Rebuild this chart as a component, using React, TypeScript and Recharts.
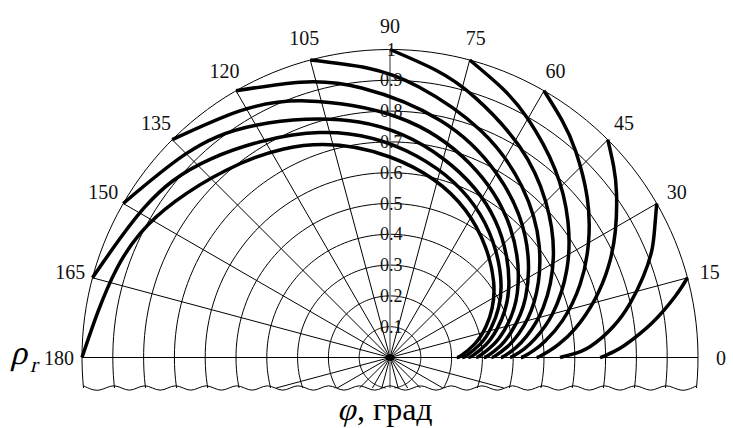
import { ComposedChart, XAxis, YAxis, Line, Scatter } from "recharts";

// polar angle phi (deg) and rho_r, one pair per curve
// (curves are named by the angle where they reach rho = 1)
const phi15 = [0, 0.2, 0.8, 1.5, 3, 5.3, 7.5, 9.8, 12, 13.5, 15];
const rho15 = [0.682, 0.689, 0.707, 0.727, 0.763, 0.812, 0.858, 0.903, 0.945, 0.973, 1];

const phi30 = [0, 1, 3.1, 7.9, 12.7, 17.7, 22.3, 26.3, 30];
const rho30 = [0.552, 0.59, 0.65, 0.732, 0.799, 0.863, 0.919, 0.959, 1];

const phi45 = [0, 0.5, 2.3, 4.5, 9, 15.8, 22.5, 29.3, 36, 40.5, 45];
const rho45 = [0.476, 0.487, 0.517, 0.55, 0.61, 0.691, 0.767, 0.839, 0.909, 0.955, 1];

const phi60 = [0, 0.6, 3, 6, 12, 21, 30, 39, 48, 54, 60];
const rho60 = [0.425, 0.437, 0.47, 0.506, 0.572, 0.661, 0.744, 0.824, 0.901, 0.951, 1];

const phi75 = [0, 0.8, 3.8, 7.5, 15, 26.3, 37.5, 48.8, 60, 67.5, 75];
const rho75 = [0.39, 0.402, 0.438, 0.476, 0.546, 0.64, 0.728, 0.813, 0.895, 0.948, 1];

const phi90 = [0, 0.9, 4.5, 9, 18, 31.5, 45, 58.5, 72, 81, 90];
const rho90 = [0.36, 0.373, 0.41, 0.45, 0.523, 0.622, 0.715, 0.804, 0.889, 0.945, 1];

const phi105 = [0, 1, 5.3, 10.5, 21, 36.8, 52.5, 68.3, 84, 94.5, 105];
const rho105 = [0.33, 0.343, 0.383, 0.425, 0.501, 0.605, 0.702, 0.794, 0.884, 0.943, 1];

const phi120 = [0, 1.2, 6, 12, 24, 42, 60, 78, 96, 108, 120];
const rho120 = [0.305, 0.319, 0.36, 0.403, 0.482, 0.59, 0.691, 0.787, 0.88, 0.94, 1];

const phi135 = [0, 1.4, 6.8, 13.5, 27, 47.3, 67.5, 87.8, 108, 121.5, 135];
const rho135 = [0.28, 0.294, 0.336, 0.382, 0.464, 0.575, 0.68, 0.779, 0.876, 0.938, 1];

const phi150 = [0, 1.5, 7.5, 15, 30, 52.5, 75, 97.5, 120, 135, 150];
const rho150 = [0.255, 0.27, 0.313, 0.36, 0.445, 0.561, 0.668, 0.771, 0.871, 0.936, 1];

const phi165 = [0, 1.7, 8.3, 16.5, 33, 57.8, 82.5, 107.3, 132, 148.5, 165];
const rho165 = [0.235, 0.25, 0.295, 0.343, 0.43, 0.549, 0.66, 0.765, 0.868, 0.934, 1];

const phi180 = [0, 1.8, 9, 18, 36, 63, 90, 117, 144, 162, 180];
const rho180 = [0.217, 0.233, 0.278, 0.328, 0.416, 0.538, 0.651, 0.76, 0.862, 0.933, 1];

// grid ticks
const RINGS = [0.1, 0.2, 0.3, 0.4, 0.5, 0.6, 0.7, 0.8, 0.9, 1];
const RING_LABELS = ["0.1", "0.2", "0.3", "0.4", "0.5", "0.6", "0.7", "0.8", "0.9", "1"];
const ANGLE_TICKS = [0, 15, 30, 45, 60, 75, 90, 105, 120, 135, 150, 165, 180];

const W = 733;
const H = 428;
const CX = 390; // pixel position of the pole
const CY = 357.5;
const R = 308; // pixels for rho = 1
const X_DOM = [-CX / R, (W - CX) / R];
const Y_DOM = [(CY - H) / R, CY / R];
const CUT = 0.099; // the grid is broken off this far below the 0-180 line
const FONT = "'Liberation Serif', 'Times New Roman', serif";

const rad = (d: number) => (d * Math.PI) / 180;
const polar = (phi: number, rho: number) => ({
  x: rho * Math.cos(rad(phi)),
  y: rho * Math.sin(rad(phi)),
});

const curves = [
  [phi15, rho15], [phi30, rho30], [phi45, rho45], [phi60, rho60],
  [phi75, rho75], [phi90, rho90], [phi105, rho105], [phi120, rho120],
  [phi135, rho135], [phi150, rho150], [phi165, rho165], [phi180, rho180],
].map(([ph, rh]) => ph.map((p, i) => polar(p, rh[i])));

// ring arcs, stopped at the break line
const ring = (r: number) => {
  const over = r > CUT ? (Math.asin(CUT / r) * 180) / Math.PI : 90;
  const pts = [];
  for (let a = -over; a < 180 + over; a += 2) pts.push(polar(a, r));
  pts.push(polar(180 + over, r));
  return pts;
};

// spokes every 15 deg, the ones below the axis cut at the break line
const spokes = [];
for (let a = 0; a < 360; a += 15) {
  if (a === 90 || a === 270) continue;
  const s = Math.sin(rad(a));
  const len = s < -1e-6 ? Math.min(1, CUT / -s) : 1;
  spokes.push([polar(a, 0), polar(a, len)]);
}

// wavy break line
const wave: { x: number; y: number }[] = [];
for (let i = 0; i <= 40; i++) {
  const x = -0.995 + (i * 1.99) / 40;
  wave.push({ x, y: -CUT + (i % 2 === 0 ? 0.007 : -0.007) });
}

const angleLabels = ANGLE_TICKS.map((a) => ({ ...polar(a, 1.075), label: String(a) }));
const ringLabels = RINGS.map((r, i) => ({ x: 0.004, y: r, label: RING_LABELS[i] }));

const tickText = (size: number) => (p: any) => (
  <text
    x={p.cx}
    y={p.cy}
    textAnchor="middle"
    dominantBaseline="central"
    fontSize={size}
    fontFamily={FONT}
    fill="#111"
  >
    {p.payload.label}
  </text>
);

const thin = (key: string, data: { x: number; y: number }[], color = "#000", w = 1) => (
  <Line
    key={key}
    data={data}
    dataKey="y"
    type="linear"
    stroke={color}
    strokeWidth={w}
    dot={false}
    activeDot={false}
    isAnimationActive={false}
  />
);

const App = () => {
  return (
    <div style={{ position: "absolute", left: 0, top: 0, width: W, height: H, background: "#fff" }}>
      <ComposedChart width={W} height={H} margin={{ top: 0, right: 0, bottom: 0, left: 0 }}>
        <XAxis type="number" dataKey="x" domain={X_DOM} allowDataOverflow hide />
        <YAxis type="number" dataKey="y" domain={Y_DOM} allowDataOverflow hide />

        {RINGS.map((r) => thin(`ring-${r}`, ring(r)))}
        {spokes.map((s, i) => thin(`spoke-${i}`, s))}
        {thin("vaxis", [{ x: 0, y: -CUT }, { x: 0, y: 1 }], "#808080", 1.6)}
        <Line
          data={wave}
          dataKey="y"
          type="natural"
          stroke="#000"
          strokeWidth={1}
          dot={false}
          activeDot={false}
          isAnimationActive={false}
        />

        {curves.map((pts, i) => (
          <Line
            key={`curve-${i}`}
            data={pts}
            dataKey="y"
            type="natural"
            stroke="#000"
            strokeWidth={3.5}
            dot={false}
            activeDot={false}
            isAnimationActive={false}
          />
        ))}

        <Scatter
          data={[{ x: 0, y: 0 }]}
          dataKey="y"
          isAnimationActive={false}
          shape={(p: any) => <circle cx={p.cx} cy={p.cy} r={3.5} fill="#000" />}
        />
        <Scatter data={ringLabels} dataKey="y" isAnimationActive={false} shape={tickText(18)} />
        <Scatter data={angleLabels} dataKey="y" isAnimationActive={false} shape={tickText(20)} />
        <Scatter
          data={[{ x: (10 - CX) / R, y: (CY - 364) / R }]}
          dataKey="y"
          isAnimationActive={false}
          shape={(p: any) => (
            <g transform={`translate(${p.cx},${p.cy}) skewX(-14)`}>
              <text x={0} y={0} fontFamily={FONT} fontSize={34} fill="#000">
                ρ
              </text>
              <text x={22} y={8} fontFamily={FONT} fontSize={22} fill="#000">
                r
              </text>
            </g>
          )}
        />
        <Scatter
          data={[{ x: (337 - CX) / R, y: (CY - 420) / R }]}
          dataKey="y"
          isAnimationActive={false}
          shape={(p: any) => (
            <g transform={`translate(${p.cx},${p.cy})`}>
              <text x={0} y={0} transform="skewX(-14)" fontFamily={FONT} fontSize={32} fill="#000">
                φ
              </text>
              <text x={20} y={0} fontFamily={FONT} fontSize={32} fill="#000">
                , град
              </text>
            </g>
          )}
        />
      </ComposedChart>
    </div>
  );
};

export default App;
